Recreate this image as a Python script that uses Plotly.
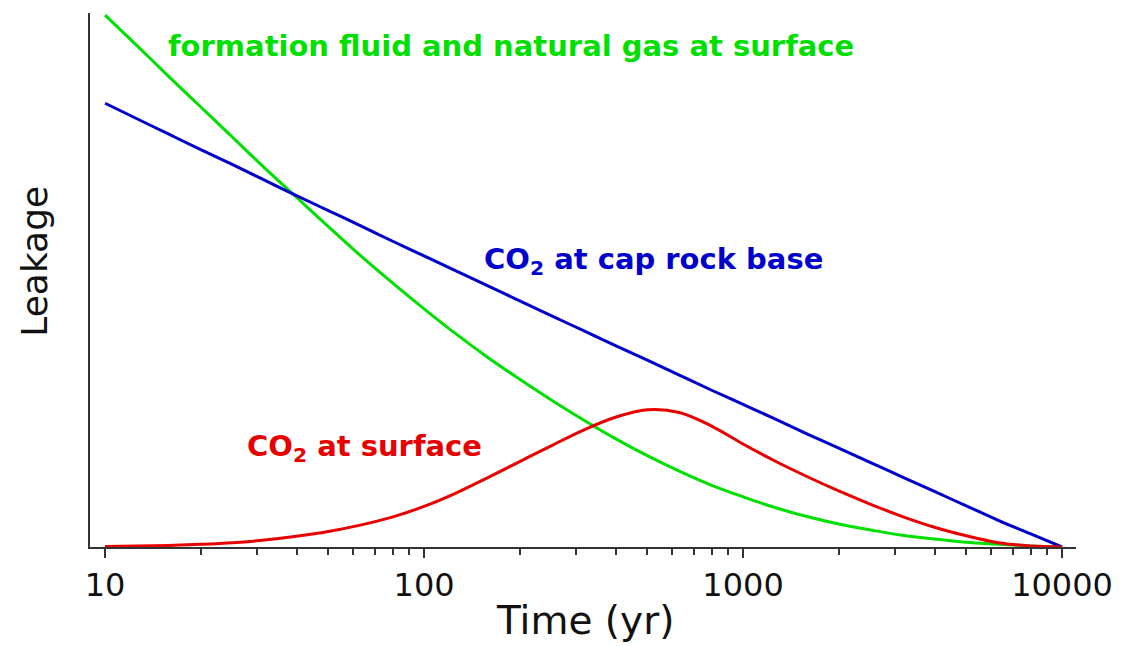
import plotly.graph_objects as go

# Time (yr), log scale (evenly spaced in log)
time_yr = [10, 12.59, 15.85, 19.95, 25.12, 31.62, 39.81, 50.12, 63.1, 79.43,
           100, 125.9, 158.5, 199.5, 251.2, 316.2, 398.1, 501.2, 631, 794.3,
           1000, 1259, 1585, 1995, 2512, 3162, 3981, 5012, 6310, 7943, 10000]

# Leakage (arbitrary units, 0-100)
co2_cap_rock_base = [83.1, 80.2, 77.3, 74.4, 71.6, 68.7, 65.8, 63.0, 60.2, 57.3,
                     54.5, 51.7, 48.9, 46.1, 43.3, 40.5, 37.7, 35.0, 32.2, 29.4,
                     26.7, 24.0, 21.2, 18.5, 15.8, 13.1, 10.4, 7.7, 5.0, 2.5, 0.0]
formation_fluid_gas = [99.6, 93.9, 88.1, 82.4, 76.7, 71.0, 65.5, 60.0, 54.6, 49.5,
                       44.6, 39.9, 35.5, 31.4, 27.5, 23.8, 20.3, 17.1, 14.2, 11.6,
                       9.4, 7.4, 5.7, 4.3, 3.2, 2.2, 1.5, 0.9, 0.5, 0.2, 0.0]
co2_surface = [0.1, 0.2, 0.3, 0.5, 0.8, 1.3, 2.0, 2.9, 4.1, 5.6,
               7.6, 10.1, 13.0, 16.0, 19.0, 21.9, 24.3, 25.7, 25.2, 22.7,
               19.3, 16.1, 13.2, 10.5, 8.0, 5.7, 3.7, 2.1, 0.8, 0.2, 0.0]

tick_vals = [10, 100, 1000, 10000]
tick_text = ["10", "100", "1000", "10000"]
minor_tick_vals = [20, 30, 40, 50, 60, 70, 80, 90,
                   200, 300, 400, 500, 600, 700, 800, 900,
                   2000, 3000, 4000, 5000, 6000, 7000, 8000, 9000]

GREEN = "#00E000"
BLUE = "#0000CD"
RED = "#E80000"
AXIS = "#333333"

fig = go.Figure()
fig.add_trace(go.Scatter(x=time_yr, y=formation_fluid_gas, mode="lines",
                         line=dict(color=GREEN, width=3, shape="spline", smoothing=1),
                         name="formation fluid"))
fig.add_trace(go.Scatter(x=time_yr, y=co2_cap_rock_base, mode="lines",
                         line=dict(color=BLUE, width=3, shape="spline", smoothing=1),
                         name="CO2 cap rock"))
fig.add_trace(go.Scatter(x=time_yr, y=co2_surface, mode="lines",
                         line=dict(color=RED, width=3, shape="spline", smoothing=1),
                         name="CO2 surface"))

FONT = "DejaVu Sans"
fig.update_layout(
    width=1137, height=646,
    margin=dict(l=90, r=61, t=13, b=99),
    paper_bgcolor="white", plot_bgcolor="white",
    showlegend=False,
    xaxis=dict(type="log", range=[0.9528, 4.0438],
               showline=True, linecolor=AXIS, linewidth=2,
               showgrid=False, zeroline=False,
               ticks="outside", ticklen=9, tickwidth=2, tickcolor=AXIS,
               tickvals=tick_vals, ticktext=tick_text,
               tickfont=dict(family=FONT, size=32, color="#111111"),
               minor=dict(ticks="outside", ticklen=6, tickwidth=1.5, tickcolor=AXIS,
                          tickvals=minor_tick_vals, showgrid=False)),
    yaxis=dict(range=[0, 100], showline=True, linecolor=AXIS, linewidth=2,
               showgrid=False, zeroline=False, showticklabels=False, ticks=""),
    annotations=[
        dict(text="Time (yr)", xref="paper", yref="paper", x=0.502, y=-0.137,
             xanchor="center", yanchor="middle", showarrow=False,
             font=dict(family=FONT, size=39, color="#111111")),
        dict(text="Leakage", xref="paper", yref="paper", x=-0.0558, y=0.536,
             xanchor="center", yanchor="middle", showarrow=False, textangle=-90,
             font=dict(family=FONT, size=36, color="#111111")),
        dict(text="<b>formation fluid and natural gas at surface</b>", xref="paper", yref="paper",
             x=0.0771, y=0.938, xanchor="left", yanchor="middle", showarrow=False,
             font=dict(family=FONT, size=29, color=GREEN)),
        dict(text="<b>CO<sub>2</sub> at cap rock base</b>", xref="paper", yref="paper",
             x=0.3976, y=0.5356, xanchor="left", yanchor="middle", showarrow=False,
             font=dict(family=FONT, size=29, color=BLUE)),
        dict(text="<b>CO<sub>2</sub> at surface</b>", xref="paper", yref="paper",
             x=0.1572, y=0.1854, xanchor="left", yanchor="middle", showarrow=False,
             font=dict(family=FONT, size=29, color=RED)),
    ],
)

fig.write_html("out.html")
